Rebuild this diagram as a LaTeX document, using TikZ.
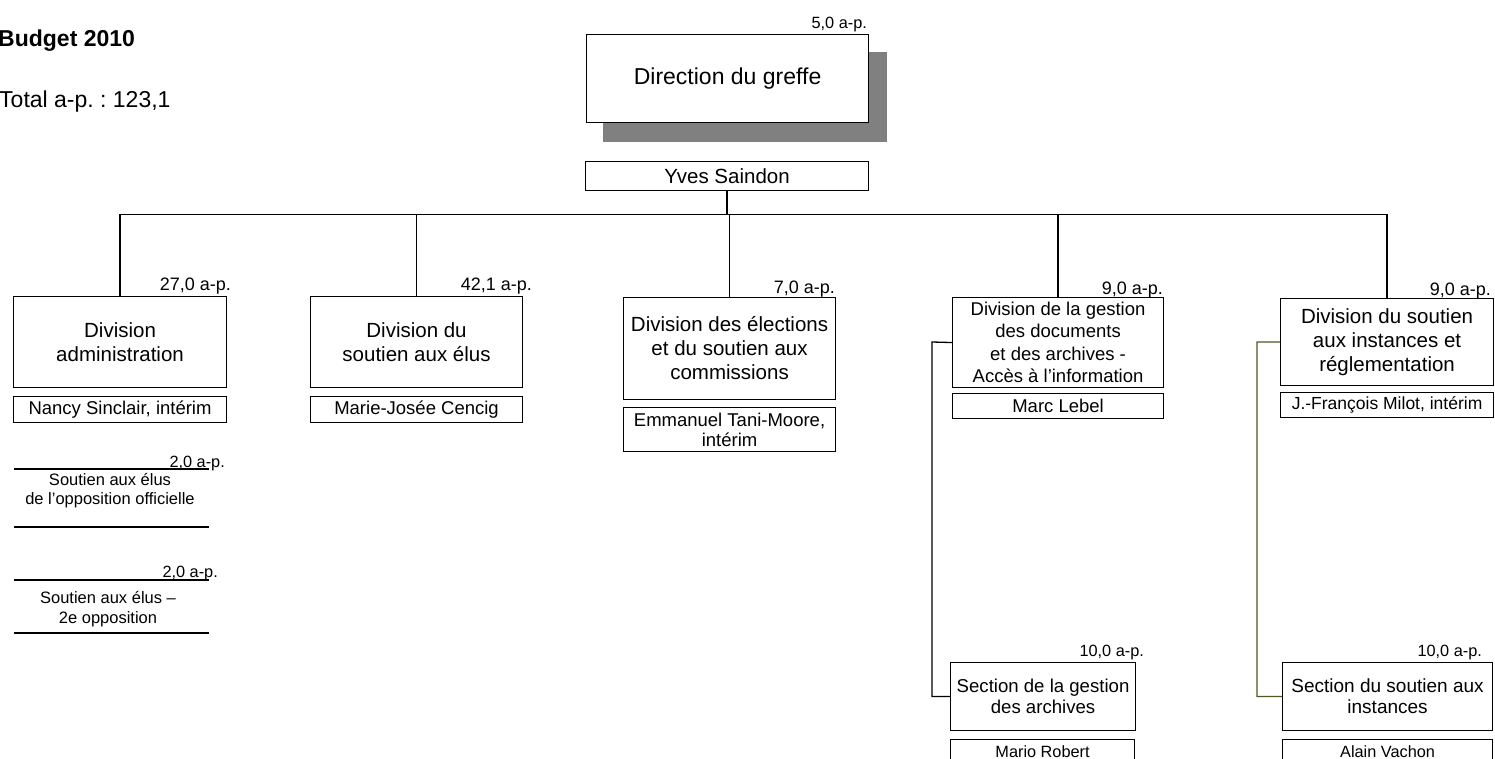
\documentclass[tikz,border=0pt]{standalone}
\usepackage{fontspec}
\setmainfont{Liberation Sans}
\frenchspacing
\definecolor{olivel}{RGB}{85,85,35}
\definecolor{shadowgray}{RGB}{128,128,128}
\begin{document}
\begin{tikzpicture}[x=1pt,y=-1pt,
  box/.style={draw, line width=1.1pt, inner sep=0pt, align=center, anchor=north west},
  big/.style={font=\fontsize{20.5}{24.5}\selectfont},
  mid/.style={font=\fontsize{18.5}{22.5}\selectfont},
  sml/.style={font=\fontsize{16.5}{19}\selectfont},
  amt/.style={font=\fontsize{18}{21}\selectfont, anchor=base east, inner sep=0pt},
  amts/.style={font=\fontsize{16.3}{19}\selectfont, anchor=base east, inner sep=0pt},
  conn/.style={line width=1.3pt},
  rule/.style={line width=1.1pt}]
\useasboundingbox (0,0) rectangle (1495,759);
\clip (0,0) rectangle (1495,759);

% title texts
\node[anchor=base west, inner sep=0pt, font=\fontsize{23}{27}\selectfont\bfseries] (budget) at (-2,47) {Budget 2010};
\node[anchor=base west, inner sep=0pt, font=\fontsize{23}{27}\selectfont] (total) at (-1,108) {Total a-p. : 123,1};

% direction
\fill[shadowgray] (603,52) rectangle (887,142);
\node[box, fill=white, minimum width=282pt, minimum height=88pt, font=\fontsize{23}{27}\selectfont] (dir) at (586,34) {Direction du greffe};
\node[amts, xshift=-2pt, yshift=5pt] (dirA) at (dir.north east) {5,0 a-p.};
\node[box, big, minimum width=283pt, minimum height=29pt] (yves) at (585,161) {Yves Saindon};

% divisions
\node[box, big, minimum width=213pt, minimum height=91pt] (adm) at (13,296) {Division\\administration};
\node[box, mid, minimum width=213pt, minimum height=26pt] (admN) at (13,396) {Nancy Sinclair, intérim};
\node[amt, xshift=4pt, yshift=6pt] (admA) at (adm.north east) {27,0 a-p.};

\node[box, big, minimum width=212pt, minimum height=91pt] (elus) at (310,296) {Division du\\soutien aux élus};
\node[box, mid, minimum width=212pt, minimum height=26pt] (elusN) at (310,396) {Marie-Josée Cencig};
\node[amt, xshift=9pt, yshift=6pt] (elusA) at (elus.north east) {42,1 a-p.};

\node[box, font=\fontsize{20.5}{24}\selectfont, minimum width=212pt, minimum height=102pt] (elec) at (623,297) {Division des élections\\et du soutien aux\\commissions};
\node[box, font=\fontsize{18.5}{20}\selectfont, minimum width=212pt, minimum height=44pt] (elecN) at (623,407) {Emmanuel Tani-Moore,\\intérim};
\node[amt, xshift=-1pt, yshift=4pt] (elecA) at (elec.north east) {7,0 a-p.};

\node[box, mid, minimum width=211pt, minimum height=90pt] (docs) at (952,297) {Division de la gestion\\des documents\\et des archives -\\Accès à l’information};
\node[box, mid, minimum width=211pt, minimum height=25pt] (docsN) at (952,393) {Marc Lebel};
\node[amt, xshift=-1pt, yshift=3pt] (docsA) at (docs.north east) {9,0 a-p.};

\node[box, font=\fontsize{20.5}{24}\selectfont, minimum width=213pt, minimum height=87pt] (regl) at (1280,298) {Division du soutien\\aux instances et\\réglementation};
\node[box, font=\fontsize{17.5}{21}\selectfont, minimum width=213pt, minimum height=25pt] (reglN) at (1280,392) {J.-François Milot, intérim};
\node[amt, xshift=-3pt, yshift=3pt] (reglA) at (regl.north east) {9,0 a-p.};

% sections
\node[box, font=\fontsize{18.6}{21}\selectfont, minimum width=185pt, minimum height=68pt] (secg) at (950,662) {Section de la gestion\\des archives};
\node[box, font=\fontsize{16.3}{19}\selectfont, minimum width=184pt, minimum height=24pt] (secgN) at (950,739) {Mario Robert};
\node[amts, xshift=8pt, yshift=6pt] (secgA) at (secg.north east) {10,0 a-p.};

\node[box, font=\fontsize{19}{21}\selectfont, minimum width=210pt, minimum height=68pt] (seci) at (1282,662) {Section du soutien aux\\instances};
\node[box, font=\fontsize{16.3}{19}\selectfont, minimum width=210pt, minimum height=24pt] (seciN) at (1282,739) {Alain Vachon};
\node[amts, xshift=-11pt, yshift=6pt] (seciA) at (seci.north east) {10,0 a-p.};

% connectors
\coordinate (bus) at (726,214.5);
\draw[conn] (yves.south) -- (yves.south |- bus);
\draw[conn] (adm.north) |- (bus) -| (regl.north);
\draw[conn] (elus.north) -- (elus.north |- bus);
\draw[conn] (elec.north) -- (elec.north |- bus);
\draw[conn] (docs.north) -- (docs.north |- bus);
\coordinate (dj) at (932,342);
\draw[conn] (docs.west) -- (dj) |- (secg.west);
\coordinate (rj) at (1257,342);
\draw[conn, olivel] (regl.west) -- (rj) |- (seci.west);

% left small units
\draw[rule] (14,469) -- (209,469);
\node[amts] (opA) at (225,467) {2,0 a-p.};
\node[sml, align=center, inner sep=0pt] (op) at (110,491) {Soutien aux élus\\de l’opposition officielle};
\draw[rule] (14,527) -- (209,527);
\draw[rule] (14,580) -- (209,580);
\node[amts] (op2A) at (218,577) {2,0 a-p.};
\node[font=\fontsize{16.5}{20}\selectfont, align=center, inner sep=0pt] (op2) at (108,609) {Soutien aux élus –\\2e opposition};
\draw[rule] (14,633) -- (209,633);
\end{tikzpicture}
\end{document}
